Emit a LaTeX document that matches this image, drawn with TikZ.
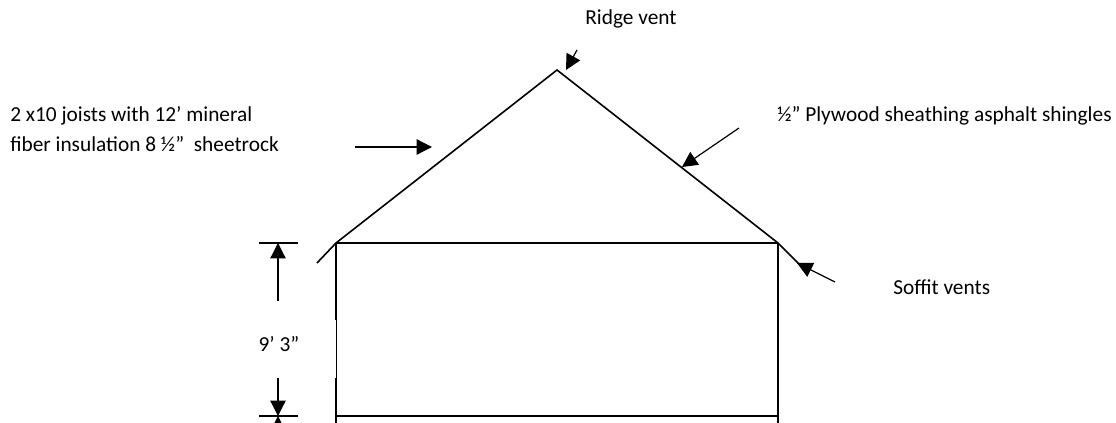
\documentclass[tikz,border=0pt]{standalone}
\usepackage{fontspec}
\setmainfont{Carlito}
\usetikzlibrary{arrows.meta}
\tikzset{
	label/.style = {align=left, inner sep=0pt, font=\fontsize{16}{22.5}\selectfont},
	wall/.style = {line width=1.2pt, black},
	thinwall/.style = {line width=0.7pt, black},
	tick/.style = {line width=0.9pt, black},
	pointer/.style = {line width=0.9pt, black, -{Triangle[length=11.5pt,width=11.5pt]}}
}
\begin{document}
\begin{tikzpicture}[x=0.75pt,y=-0.75pt]
		\clip (0,0) rectangle (1116,423);
		% house outline
		\coordinate (apex) at (557,70);
		\coordinate (eaveL) at (336,243);
		\coordinate (eaveR) at (778,243);
		\coordinate (overL) at (317,263);
		\coordinate (overR) at (800,265);
		\coordinate (breakT) at (336,320);
		\coordinate (breakB) at (336,378);
		\coordinate (floorL) at (336,416);
		\coordinate (floorR) at (778,416);
		\coordinate (baseL) at (336,423);
		\coordinate (baseR) at (778,423);
		\draw [wall] (overL) -- (eaveL) -- (apex) -- (eaveR) -- (overR);
		\draw [wall] (eaveL) -- (eaveR);
		\draw [wall] (floorL) -- (floorR);
		\draw [wall] (eaveR) -- (baseR);
		\draw [wall] (eaveL) -- (breakT);
		\draw [thinwall] (breakT) -- (breakB);
		\draw [wall] (breakB) -- (baseL);
		% labels
		\node [label, anchor=center] (ridge) at (631,19) {Ridge vent};
		\node [label, anchor=west] (joists) at (10,129) {2 x10 joists with 12’ mineral\\fiber insulation 8 ½”~ sheetrock};
		\node [label, anchor=west] (plywood) at (777,116) {½” Plywood sheathing asphalt shingles};
		\node [label, anchor=west] (soffit) at (893,287) {Soffit vents};
		\node [label, anchor=center] (height) at (279,344) {9’ 3”};
		% pointers
		\coordinate (ridgeA) at (577,50);
		\coordinate (ridgeB) at (566,70);
		\coordinate (joistA) at (355,147);
		\coordinate (joistB) at (432,147);
		\coordinate (plyA) at (739,128);
		\coordinate (plyB) at (682,167);
		\coordinate (soffA) at (835,282);
		\coordinate (soffB) at (797,263);
		\draw [pointer] (ridgeA) -- (ridgeB);
		\draw [pointer] (joistA) -- (joistB);
		\draw [pointer] (plyA) -- (plyB);
		\draw [pointer] (soffA) -- (soffB);
		% height dimension
		\coordinate (tickTL) at (259,243);
		\coordinate (tickTR) at (298,243);
		\coordinate (tickBL) at (259,416);
		\coordinate (tickBR) at (298,416);
		\coordinate (dimT) at (278,243);
		\coordinate (dimB) at (278,416);
		\coordinate (dimTs) at (278,301);
		\coordinate (dimBs) at (278,378);
		\coordinate (dimX) at (278,440);
		\draw [tick] (tickTL) -- (tickTR);
		\draw [tick] (tickBL) -- (tickBR);
		\draw [pointer] (dimTs) -- (dimT);
		\draw [pointer] (dimBs) -- (dimB);
		\draw [pointer] (dimX) -- (dimB);
		\end{tikzpicture}
\end{document}
